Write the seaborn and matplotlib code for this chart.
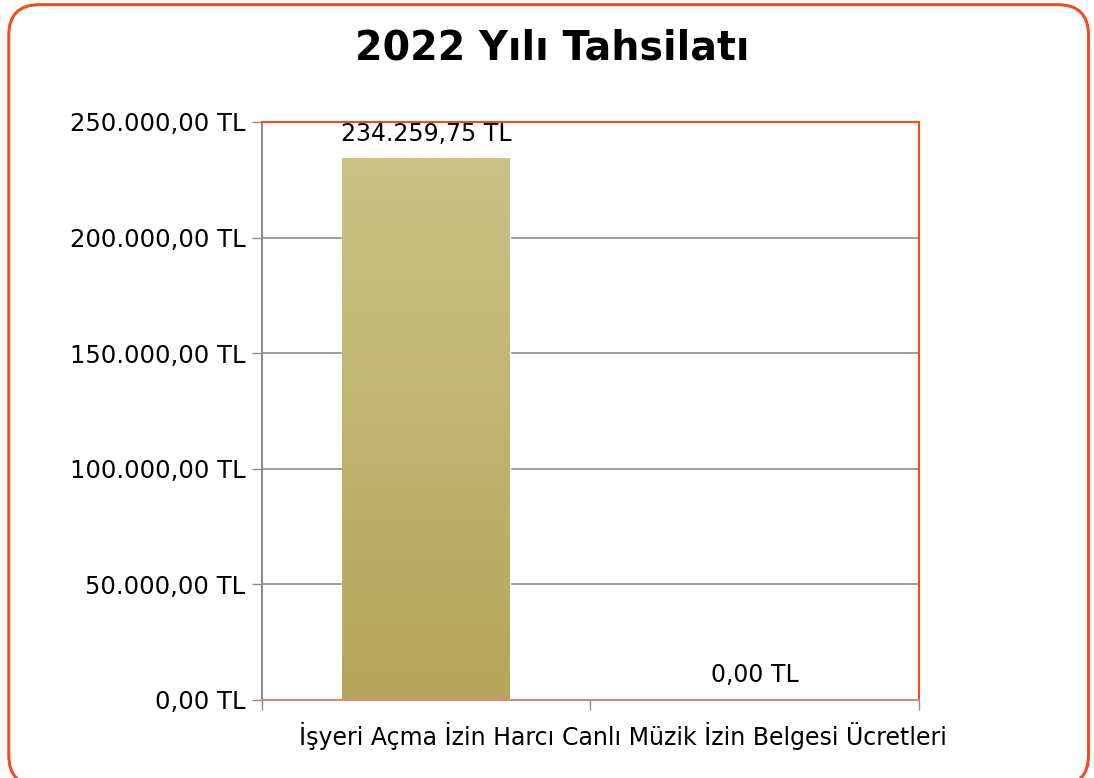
import numpy as np
import pandas as pd
import matplotlib.pyplot as plt
import seaborn as sns
from matplotlib.patches import FancyBboxPatch
from matplotlib.colors import LinearSegmentedColormap
from matplotlib.ticker import FuncFormatter, MultipleLocator

# Data
categories = ["İşyeri Açma İzin Harcı", "Canlı Müzik İzin Belgesi Ücretleri"]
values = [234259.75, 0.0]
title = "2022 Yılı Tahsilatı"

sns.set_theme(style="white")
plt.rcParams['font.family'] = ['DejaVu Sans']

def tl(v):
    s = f"{v:,.2f}"
    s = s.replace(",", "X").replace(".", ",").replace("X", ".")
    return s + " TL"

df = pd.DataFrame({"Kalem": categories, "Tutar": values})

fig = plt.figure(figsize=(10.94, 7.78), dpi=100)
ax = fig.add_axes([0.2395, 0.1003, 0.6005, 0.7429])

# rounded frame around the whole picture
frame = FancyBboxPatch((0.008, -0.01), 0.987, 1.004, boxstyle="round,pad=0,rounding_size=0.028",
                       transform=fig.transFigure, fill=False, edgecolor="#F04E1C", linewidth=2.2,
                       mutation_aspect=1094 / 778)
fig.patches.append(frame)

sns.barplot(data=df, x="Kalem", y="Tutar", color="#C2B670", width=0.51, ax=ax, zorder=3)

# gradient fill on the bars
cmap = LinearSegmentedColormap.from_list("olive", ["#B4A65A", "#CBC286"])
grad = np.linspace(0, 1, 256).reshape(-1, 1)
for p in ax.patches:
    if p.get_height() <= 0:
        continue
    x0, y0 = p.get_x(), p.get_y()
    im = ax.imshow(grad, cmap=cmap, aspect="auto", origin="lower",
                   extent=[x0, x0 + p.get_width(), y0, y0 + p.get_height()], zorder=3)
    im.set_clip_path(p)

ax.set_xlim(-0.5, 1.5)
ax.set_ylim(0, 250000)
ax.yaxis.set_major_locator(MultipleLocator(50000))
ax.yaxis.set_major_formatter(FuncFormatter(lambda v, _: tl(v)))
ax.grid(axis="y", color="#8C8C8C", linewidth=1.2, zorder=0)
ax.set_xlabel("")
ax.set_ylabel("")

# value labels
for i, v in enumerate(values):
    ax.annotate(tl(v), (i, v), xytext=(0, 9), textcoords="offset points",
                ha="center", va="bottom", fontsize=17, color="black")

# category boundary ticks on x
ax.set_xticks([-0.5, 0.5, 1.5], minor=True)
ax.tick_params(axis="x", which="minor", length=7, width=1, color="#8C8C8C", direction="out", bottom=True)
ax.tick_params(axis="x", which="major", length=0, labelsize=17, pad=16, labelcolor="black")
ax.tick_params(axis="y", length=7, width=1, color="#8C8C8C", direction="out", left=True,
               labelsize=17.5, pad=5, labelcolor="black")

for s in ["top", "right"]:
    ax.spines[s].set_color("#F04E1C")
    ax.spines[s].set_linewidth(1.5)
ax.spines["left"].set_color("#8C8C8C")
ax.spines["left"].set_linewidth(1.5)
ax.spines["bottom"].set_color("#D88A78")
ax.spines["bottom"].set_linewidth(1.5)
for s in ax.spines.values():
    s.set_zorder(4)

fig.text(0.505, 0.938, title, ha="center", va="center", fontsize=28.5, fontweight="bold", color="black")

fig.savefig("out.png", dpi=100, facecolor="white")
